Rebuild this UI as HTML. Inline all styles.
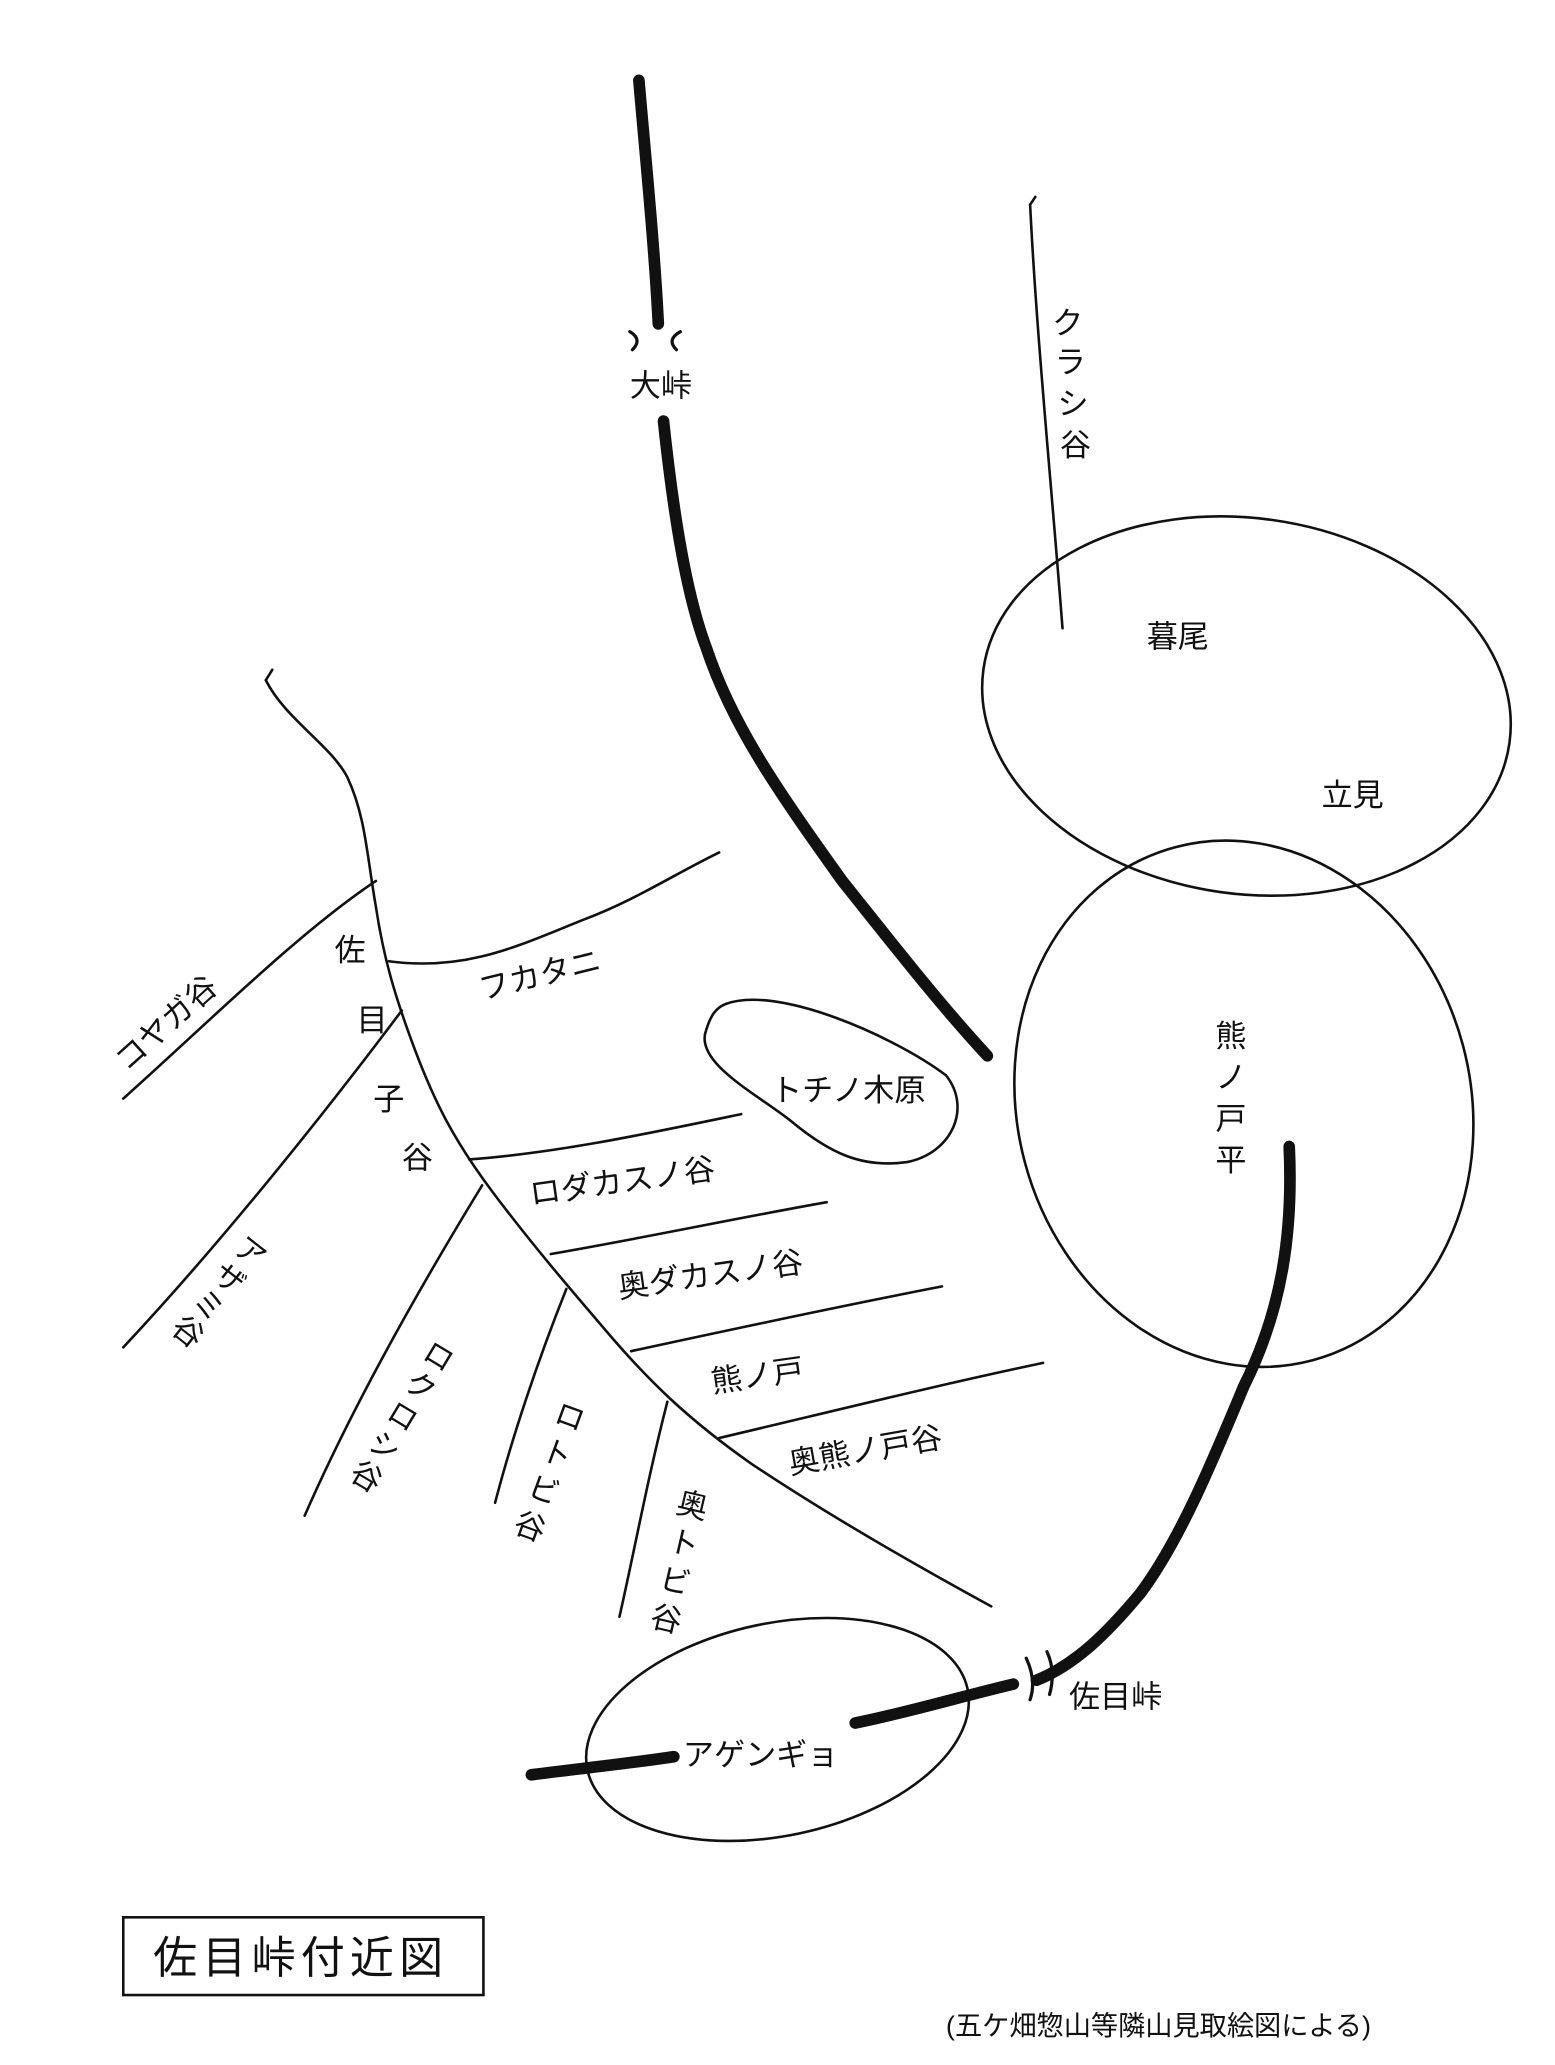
<!DOCTYPE html>
<html><head><meta charset="utf-8"><style>
html,body{margin:0;padding:0;background:#fff;}
svg{display:block;}
text{font-family:"Liberation Sans","Noto Sans CJK JP",sans-serif;fill:#111;font-size:24px;}
.v{writing-mode:vertical-rl;}
</style></head><body>
<svg width="1555" height="2065" viewBox="0 0 1200 1594" xmlns="http://www.w3.org/2000/svg">
<rect width="1200" height="1594" fill="#fff"/>
<g fill="none" stroke="#111" stroke-linecap="round">
<path d="M493,62 C498,120 505,190 508,250" stroke-width="9"/>
<path d="M486,256 Q496,262 488,270 M525,256 Q514,262 522,270" stroke-width="2.5"/>
<path d="M512,325 C520,400 530,460 545,500 C565,560 600,610 650,680 C690,730 725,775 762,815" stroke-width="9"/>
<path d="M795,158 C800,260 812,380 820,485" stroke-width="2"/>
<path d="M795,158 l4,-6" stroke-width="2"/>
<ellipse cx="962" cy="545" rx="205" ry="145" transform="rotate(8 962 545)" stroke-width="2"/>
<ellipse cx="960" cy="852" rx="175" ry="205" transform="rotate(-15 960 852)" stroke-width="2"/>
<ellipse cx="600" cy="1335" rx="150" ry="82" transform="rotate(-12 600 1335)" stroke-width="2"/>
<path d="M560,775 C600,760 690,800 730,830 C750,855 735,890 700,897 C665,902 640,890 610,865 C585,845 535,820 545,795 C548,785 552,778 560,775 Z" stroke-width="2"/>
<path d="M995,885 C998,950 990,1010 960,1070 C935,1130 910,1190 880,1230 C855,1260 830,1285 800,1297" stroke-width="9"/>
<path d="M792,1280 Q800,1297 795,1312 M808,1275 Q815,1290 810,1308" stroke-width="2.5"/>
<path d="M782,1300 C740,1310 700,1322 660,1330" stroke-width="9"/>
<path d="M520,1356 C480,1362 440,1366 410,1370" stroke-width="9"/>
<path d="M205,525 C220,555 255,575 268,600 C282,630 283,660 290,700 C296,740 305,770 320,810 C335,850 350,880 380,920 C410,960 440,995 470,1030 C500,1065 530,1095 580,1130 C640,1170 710,1210 765,1240" stroke-width="2"/>
<path d="M205,525 l5,-8" stroke-width="2"/>
<path d="M290,680 C230,720 160,790 95,848" stroke-width="2"/>
<path d="M300,742 C360,750 400,730 450,710 C490,695 520,675 555,658" stroke-width="2"/>
<path d="M310,780 C250,860 170,960 95,1040" stroke-width="2"/>
<path d="M362,895 C430,890 500,875 572,860" stroke-width="2"/>
<path d="M372,915 C320,1000 270,1090 235,1170" stroke-width="2"/>
<path d="M425,968 C500,955 570,940 638,928" stroke-width="2"/>
<path d="M437,995 C415,1050 395,1110 382,1160" stroke-width="2"/>
<path d="M487,1043 C570,1025 650,1008 727,993" stroke-width="2"/>
<path d="M515,1082 C500,1140 490,1195 478,1248" stroke-width="2"/>
<path d="M555,1110 C640,1090 720,1070 805,1052" stroke-width="2"/>
<rect x="95" y="1480" width="278" height="60" stroke-width="2"/>
</g>
<g>
<text x="486" y="306">大峠</text>
<text x="812" y="258">ク</text><text x="814" y="288">ラ</text><text x="816" y="320">シ</text><text x="818" y="352">谷</text>
<text x="885" y="500">暮尾</text>
<text x="1020" y="622">立見</text>
<text x="938" y="808">熊</text><text x="938" y="840">ノ</text><text x="938" y="872">戸</text><text x="938" y="904">平</text>
<text x="595" y="850">トチノ木原</text>
<text x="258" y="742">佐</text><text x="275" y="796">目</text><text x="288" y="857">子</text><text x="310" y="902">谷</text>
<text transform="translate(98,828) rotate(-42)">コヤガ谷</text>
<text transform="translate(372,772) rotate(-14)">フカタニ</text>
<text transform="translate(410,930) rotate(-8)">ロダカスノ谷</text>
<text transform="translate(478,1002) rotate(-8)">奥ダカスノ谷</text>
<text transform="translate(550,1075) rotate(-8)">熊ノ戸</text>
<text transform="translate(610,1138) rotate(-10)">奥熊ノ戸谷</text>
<text class="v" transform="translate(199,955) rotate(38)" x="0" y="0" style="letter-spacing:2px">アザミ谷</text>
<text class="v" transform="translate(343,1035) rotate(31)" x="0" y="0" style="letter-spacing:3px">ロクロシ谷</text>
<text class="v" transform="translate(442,1081) rotate(20)" x="0" y="0" style="letter-spacing:6px">ロトビ谷</text>
<text class="v" transform="translate(535,1149) rotate(13)" x="0" y="0" style="letter-spacing:6px">奥トビ谷</text>
<text x="527" y="1363">アゲンギョ</text>
<text x="825" y="1318">佐目峠</text>
<text x="118" y="1523" style="font-size:34px;letter-spacing:4px">佐目峠付近図</text>
<text x="730" y="1571" style="font-size:21px">(五ケ畑惣山等隣山見取絵図による)</text>
</g>
</svg>
</body></html>
